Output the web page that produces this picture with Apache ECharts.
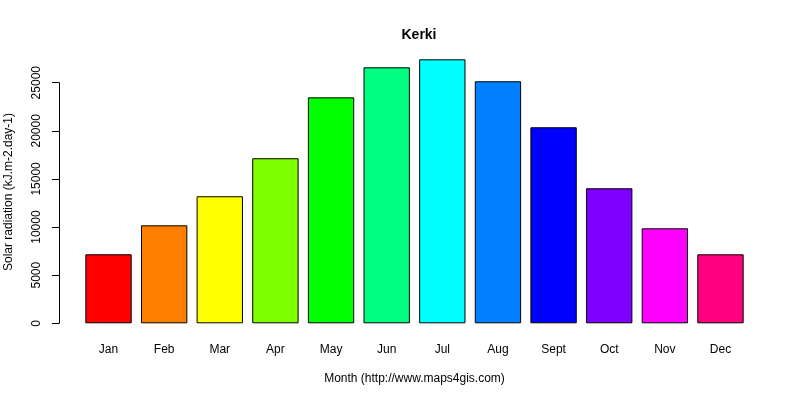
<!DOCTYPE html>
<html>
<head>
<meta charset="utf-8">
<title>Kerki</title>
<script src="https://cdn.jsdelivr.net/npm/echarts@6/dist/echarts.min.js"></script>
<style>
  html, body { margin: 0; padding: 0; background: #fff; }
  #chart { width: 800px; height: 400px; }
</style>
</head>
<body>
<div id="chart"></div>
<script>
// data
const months = ['Jan', 'Feb', 'Mar', 'Apr', 'May', 'Jun', 'Jul', 'Aug', 'Sept', 'Oct', 'Nov', 'Dec']
const radiation = [7170, 10180, 13200, 17150, 23480, 26600, 27430, 25150, 20370, 14030, 9870, 7170]
const barColors = ['#FF0000', '#FF8000', '#FFFF00', '#80FF00', '#00FF00', '#00FF80',
                   '#00FFFF', '#0080FF', '#0000FF', '#8000FF', '#FF00FF', '#FF0080']
const yTicks = [0, 5000, 10000, 15000, 20000, 25000]

const font = 'Liberation Sans, Arial, sans-serif'

let myChart = echarts.init(document.getElementById('chart'))

let option = {
    animation: false,
    backgroundColor: '#fff',
    grid: {
        left: 80.7,
        right: 51.7,
        top: 82.7,
        bottom: 76.7
    },
    title: {
        text: 'Kerki',
        left: 414,
        top: 23,
        textAlign: 'center',
        textStyle: { fontFamily: font, fontSize: 14, fontWeight: 'bold', color: '#000' }
    },
    graphic: [
        { // y axis title
            type: 'text',
            x: 9,
            y: 192,
            rotation: Math.PI / 2,
            style: {
                text: 'Solar radiation (kJ.m-2.day-1)',
                font: '12px ' + font,
                fill: '#000',
                align: 'center',
                verticalAlign: 'middle'
            }
        }
    ],
    xAxis: {
        type: 'category',
        data: months,
        axisLine: { show: false },
        axisTick: { show: false },
        axisLabel: { margin: 20, fontFamily: font, fontSize: 12, color: '#000' },
        name: 'Month (http://www.maps4gis.com)',
        nameLocation: 'middle',
        nameGap: 49,
        nameTextStyle: { fontFamily: font, fontSize: 12, color: '#000' }
    },
    yAxis: {
        type: 'value',
        min: yTicks[0],
        max: yTicks[yTicks.length - 1],
        interval: yTicks[1] - yTicks[0],
        offset: 21.7,
        splitLine: { show: false },
        axisLine: { show: true, lineStyle: { color: '#000', width: 1 } },
        axisTick: { show: true, length: 7, lineStyle: { color: '#000' } },
        axisLabel: {
            rotate: 90,
            margin: 16,
            fontFamily: font,
            fontSize: 12,
            color: '#000',
            formatter: v => String(v) // no thousands separator
        }
    },
    series: [
        {
            type: 'bar',
            clip: false,
            barCategoryGap: '16.67%',
            data: radiation.map((v, i) => ({
                value: v,
                itemStyle: { color: barColors[i] }
            })),
            itemStyle: { borderColor: '#000', borderWidth: 1 }
        }
    ]
}

myChart.setOption(option)
</script>
</body>
</html>
